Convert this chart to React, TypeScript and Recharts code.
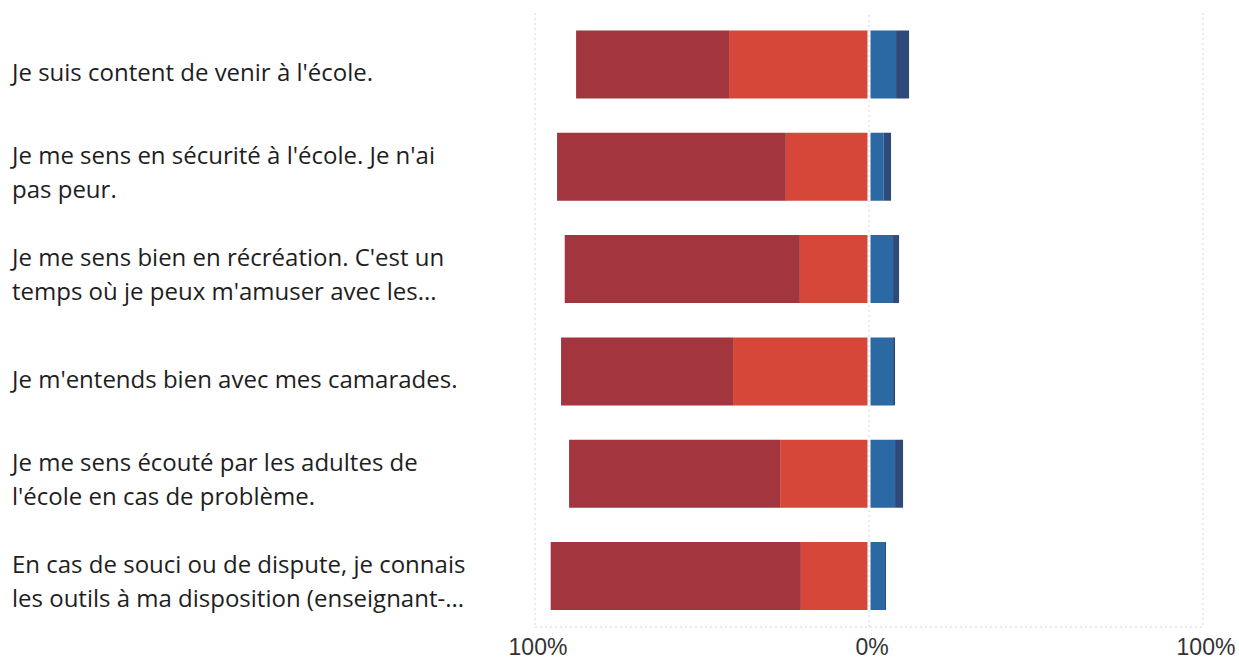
import { Bar, BarChart, CartesianGrid, ReferenceLine, XAxis, YAxis } from 'recharts';

const questions = [
  "Je suis content de venir à l'école.",
  "Je me sens en sécurité à l'école. Je n'ai\npas peur.",
  "Je me sens bien en récréation. C'est un\ntemps où je peux m'amuser avec les...",
  "Je m'entends bien avec mes camarades.",
  "Je me sens écouté par les adultes de\nl'école en cas de problème.",
  "En cas de souci ou de dispute, je connais\nles outils à ma disposition (enseignant-...",
];

// shares in %, left side (dark red outer, red inner) and right side (blue, dark blue)
const toutAFait = [45.8, 68.5, 70.4, 51.5, 63.2, 74.9];
const plutot = [41.9, 24.9, 20.7, 40.7, 26.6, 20.4];
const plutotPas = [8.1, 4.4, 7.2, 7.2, 7.8, 4.8];
const pasDuTout = [3.9, 2.2, 1.8, 0.6, 2.4, 0.3];

const xTicks = [-100, 0, 100];

const data = questions.map((q, i) => ({
  name: q,
  plutot: -plutot[i],
  toutAFait: -toutAFait[i],
  plutotPas: plutotPas[i],
  pasDuTout: pasDuTout[i],
}));

function QuestionTick({ y, payload }: any) {
  const lines = String(payload.value).split('\n');
  const lineH = 34;
  const first = -((lines.length - 1) * lineH) / 2 + (lines.length > 1 ? 4 : 7);
  return (
    <text
      x={12}
      y={y}
      fill="#1e1e1e"
      fontSize={24}
      fontFamily="'Open Sans', 'Noto Sans', sans-serif"
      textAnchor="start"
      dominantBaseline="central"
    >
      {lines.map((l, i) => (
        <tspan key={i} x={12} dy={i === 0 ? first : lineH}>
          {l}
        </tspan>
      ))}
    </text>
  );
}

function PercentTick({ x, y, payload }: any) {
  return (
    <text
      x={x + 3}
      y={y + 20}
      fill="#333"
      fontSize={23}
      fontFamily="'Liberation Sans', Arial, sans-serif"
      textAnchor="middle"
    >
      {Math.abs(payload.value)}%
    </text>
  );
}

export default function App() {
  return (
    <div style={{ position: 'absolute', left: 0, top: 0, background: '#fff' }}>
      <BarChart
        width={1239}
        height={659}
        data={data}
        layout="vertical"
        stackOffset="sign"
        barCategoryGap="17%"
        margin={{ top: 13, right: 36, left: 0, bottom: 0 }}
      >
        <CartesianGrid horizontal={false} stroke="#d6d6d6" strokeDasharray="2 3" />
        <XAxis
          type="number"
          domain={[-100, 100]}
          ticks={xTicks}
          height={32}
          tickLine={false}
          axisLine={{ stroke: '#d6d6d6', strokeDasharray: '2 3' }}
          tick={<PercentTick />}
        />
        <YAxis
          type="category"
          dataKey="name"
          width={535}
          axisLine={false}
          tickLine={false}
          tick={<QuestionTick />}
        />
        <Bar dataKey="plutot" stackId="s" fill="#d6473a" isAnimationActive={false} />
        <Bar dataKey="toutAFait" stackId="s" fill="#a3353f" isAnimationActive={false} />
        <Bar dataKey="plutotPas" stackId="s" fill="#2b69a4" isAnimationActive={false} />
        <Bar dataKey="pasDuTout" stackId="s" fill="#2f4a78" isAnimationActive={false} />
        <ReferenceLine x={0} stroke="#fff" strokeWidth={3} />
        <ReferenceLine x={0} stroke="#d6d6d6" strokeDasharray="2 3" />
      </BarChart>
    </div>
  );
}
